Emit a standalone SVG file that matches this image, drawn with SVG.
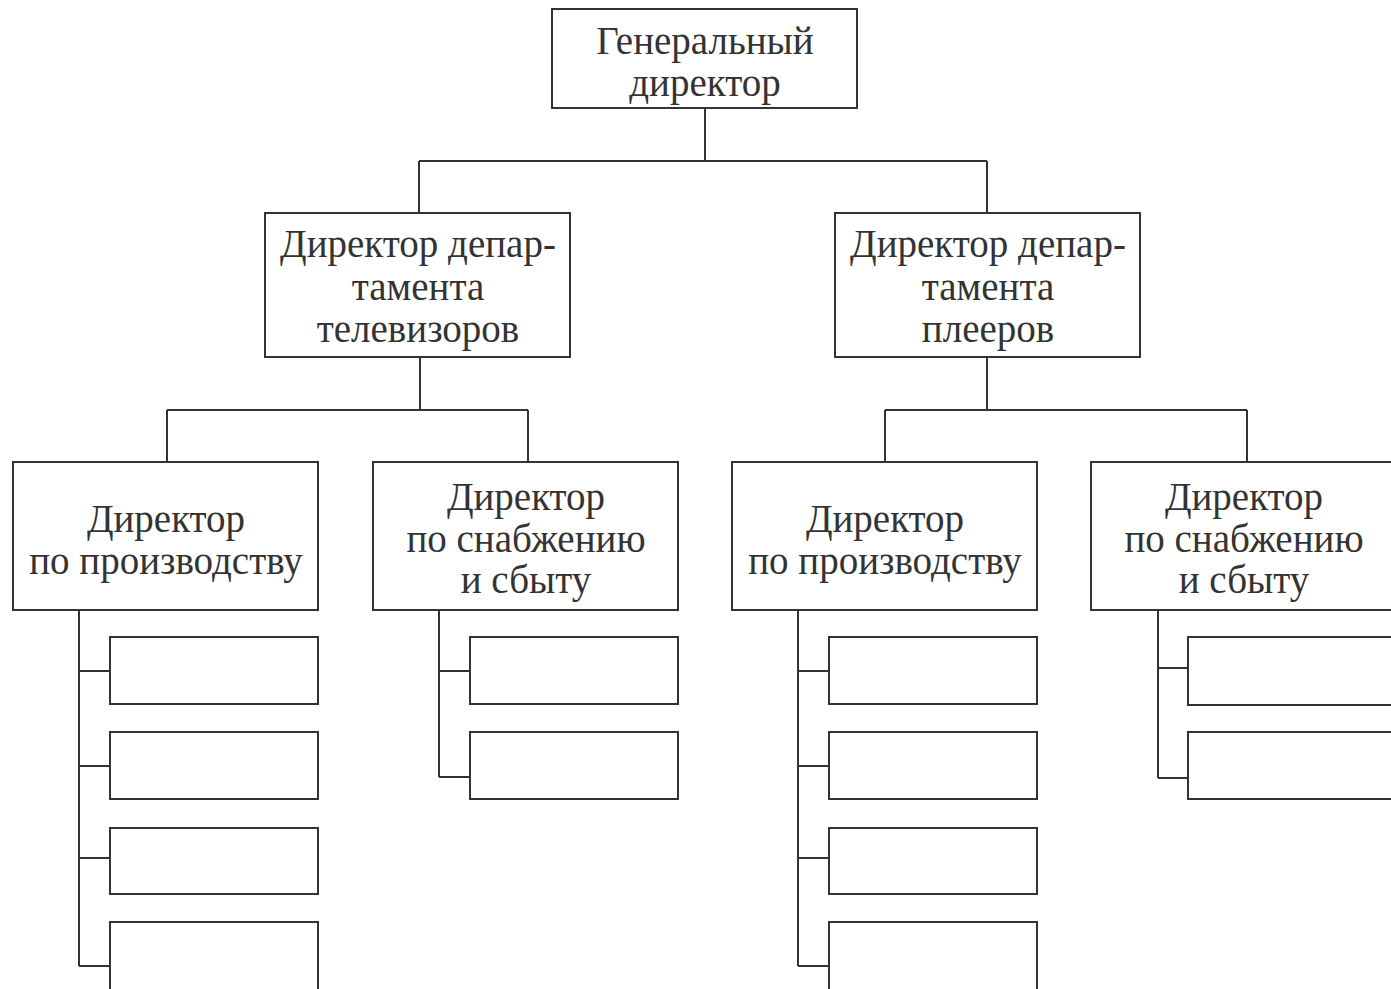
<svg xmlns="http://www.w3.org/2000/svg" width="1391" height="989" viewBox="0 0 1391 989">
<style>
.b{fill:#fff;stroke:#333;stroke-width:2}
.c{fill:none;stroke:#333;stroke-width:2}
text{font-family:"Liberation Serif","DejaVu Serif",serif;font-size:39px;fill:#333;text-anchor:middle}
</style>
<rect width="1391" height="989" fill="#fff"/>
<g id="connectors" class="c">
<path d="M705 108V161M419 161H987M419 161V213M987 161V213"/>
<path d="M420 357V410M167 410H528M167 410V462M528 410V462"/>
<path d="M987 357V410M885 410H1247M885 410V462M1247 410V462"/>
<path d="M79 610V966M79 671H110M79 766H110M79 858H110M79 966H110"/>
<path d="M439 610V777M439 671H470M439 777H470"/>
<path d="M798 610V966M798 671H829M798 766H829M798 858H829M798 966H829"/>
<path d="M1158 610V778M1158 668H1188M1158 778H1188"/>
</g>
<g id="n-gd"><rect class="b" x="552" y="9" width="305" height="99"/><text x="705" y="54">Генеральный</text><text x="705" y="96">директор</text></g>
<g id="n-tv"><rect class="b" x="265" y="213" width="305" height="144"/><text x="418" y="257">Директор депар-</text><text x="418" y="300">тамента</text><text x="418" y="342">телевизоров</text></g>
<g id="n-pl"><rect class="b" x="835" y="213" width="305" height="144"/><text x="988" y="257">Директор депар-</text><text x="988" y="300">тамента</text><text x="988" y="342">плееров</text></g>
<g id="n-tv-prod"><rect class="b" x="13" y="462" width="305" height="148"/><text x="166" y="532">Директор</text><text x="166" y="574">по производству</text></g>
<g id="n-tv-sup"><rect class="b" x="373" y="462" width="305" height="148"/><text x="526" y="510">Директор</text><text x="526" y="552">по снабжению</text><text x="526" y="593">и сбыту</text></g>
<g id="n-pl-prod"><rect class="b" x="732" y="462" width="305" height="148"/><text x="885" y="532">Директор</text><text x="885" y="574">по производству</text></g>
<g id="n-pl-sup"><rect class="b" x="1091" y="462" width="310" height="148"/><text x="1244" y="510">Директор</text><text x="1244" y="552">по снабжению</text><text x="1244" y="593">и сбыту</text></g>
<g id="n-a1"><rect class="b" x="110" y="637" width="208" height="67"/></g>
<g id="n-a2"><rect class="b" x="110" y="732" width="208" height="67"/></g>
<g id="n-a3"><rect class="b" x="110" y="828" width="208" height="66"/></g>
<g id="n-a4"><rect class="b" x="110" y="922" width="208" height="80"/></g>
<g id="n-b1"><rect class="b" x="470" y="637" width="208" height="67"/></g>
<g id="n-b2"><rect class="b" x="470" y="732" width="208" height="67"/></g>
<g id="n-c1"><rect class="b" x="829" y="637" width="208" height="67"/></g>
<g id="n-c2"><rect class="b" x="829" y="732" width="208" height="67"/></g>
<g id="n-c3"><rect class="b" x="829" y="828" width="208" height="66"/></g>
<g id="n-c4"><rect class="b" x="829" y="922" width="208" height="80"/></g>
<g id="n-d1"><rect class="b" x="1188" y="637" width="220" height="68"/></g>
<g id="n-d2"><rect class="b" x="1188" y="732" width="220" height="67"/></g>
</svg>
